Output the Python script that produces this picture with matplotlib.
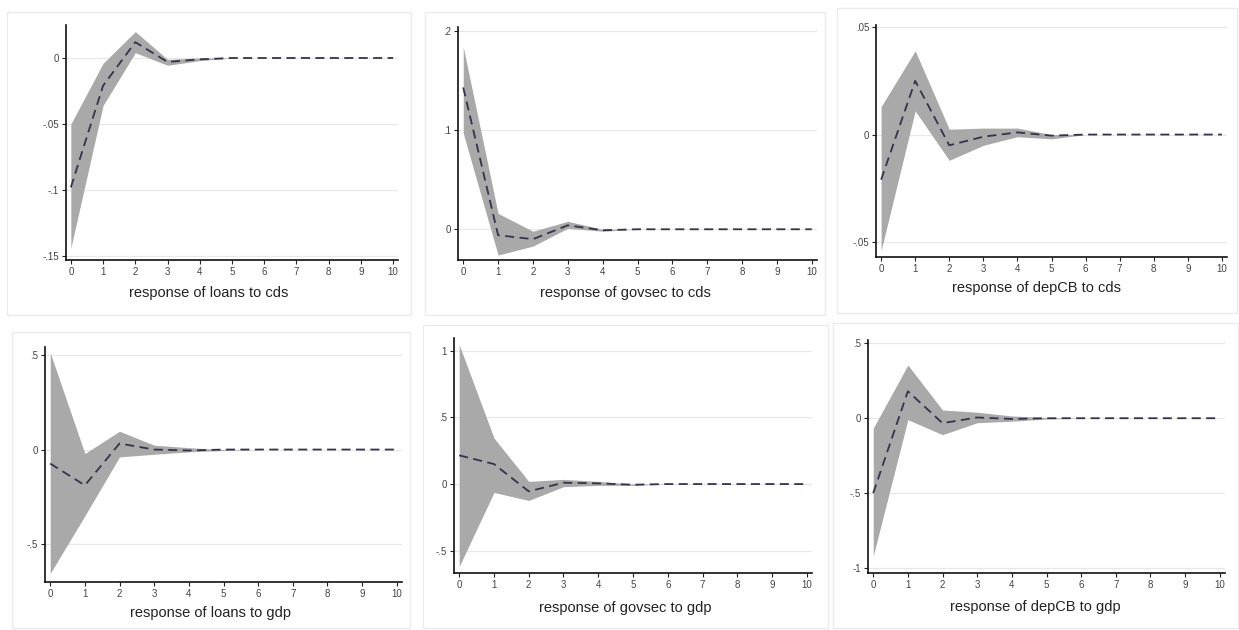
import matplotlib.pyplot as plt
from matplotlib.patches import Rectangle
from matplotlib.ticker import FuncFormatter

plt.rcParams['font.family'] = ['Liberation Sans', 'DejaVu Sans']

# Impulse responses over 10 steps, with lower/upper confidence bounds
steps = [0, 1, 2, 3, 4, 5, 6, 7, 8, 9, 10]

loans_cds_irf = [-0.098, -0.021, 0.012, -0.003, -0.001, 0.0, 0.0, 0.0, 0.0, 0.0, 0.0]
loans_cds_hi = [-0.050, -0.004, 0.020, -0.001, 0.0, 0.0, 0.0, 0.0, 0.0, 0.0, 0.0]
loans_cds_lo = [-0.144, -0.036, 0.004, -0.0055, -0.002, 0.0, 0.0, 0.0, 0.0, 0.0, 0.0]

govsec_cds_irf = [0.143, -0.006, -0.010, 0.004, -0.001, 0.0, 0.0, 0.0, 0.0, 0.0, 0.0]
govsec_cds_hi = [0.184, 0.016, -0.002, 0.008, 0.0, 0.0, 0.0, 0.0, 0.0, 0.0, 0.0]
govsec_cds_lo = [0.097, -0.026, -0.017, 0.001, -0.002, 0.0, 0.0, 0.0, 0.0, 0.0, 0.0]

depcb_cds_irf = [-0.021, 0.025, -0.005, -0.001, 0.001, -0.0005, 0.0, 0.0, 0.0, 0.0, 0.0]
depcb_cds_hi = [0.013, 0.039, 0.0025, 0.003, 0.003, 0.0, 0.0, 0.0, 0.0, 0.0, 0.0]
depcb_cds_lo = [-0.054, 0.011, -0.012, -0.005, -0.001, -0.002, 0.0, 0.0, 0.0, 0.0, 0.0]

loans_gdp_irf = [-0.074, -0.189, 0.032, 0.0, -0.005, 0.0, 0.0, 0.0, 0.0, 0.0, 0.0]
loans_gdp_hi = [0.512, -0.021, 0.097, 0.023, 0.010, 0.0, 0.0, 0.0, 0.0, 0.0, 0.0]
loans_gdp_lo = [-0.655, -0.350, -0.039, -0.025, -0.012, -0.005, 0.0, 0.0, 0.0, 0.0, 0.0]

govsec_gdp_irf = [0.215, 0.150, -0.055, 0.010, 0.005, -0.005, 0.0, 0.0, 0.0, 0.0, 0.0]
govsec_gdp_hi = [1.045, 0.345, 0.020, 0.035, 0.020, 0.0, 0.0, 0.0, 0.0, 0.0, 0.0]
govsec_gdp_lo = [-0.618, -0.063, -0.123, -0.020, -0.010, -0.010, 0.0, 0.0, 0.0, 0.0, 0.0]

depcb_gdp_irf = [-0.500, 0.180, -0.033, 0.005, -0.005, 0.0, 0.0, 0.0, 0.0, 0.0, 0.0]
depcb_gdp_hi = [-0.067, 0.355, 0.055, 0.040, 0.015, 0.005, 0.0, 0.0, 0.0, 0.0, 0.0]
depcb_gdp_lo = [-0.920, -0.010, -0.110, -0.030, -0.020, -0.005, 0.0, 0.0, 0.0, 0.0, 0.0]

titles = ["response of loans to cds", "response of govsec to cds", "response of depCB to cds",
          "response of loans to gdp", "response of govsec to gdp", "response of depCB to gdp"]
yticks = [[-0.15, -0.1, -0.05, 0], [0, 0.1, 0.2], [-0.05, 0, 0.05],
          [-0.5, 0, 0.5], [-0.5, 0, 0.5, 1], [-1, -0.5, 0, 0.5]]
ylims = [(-0.153, 0.025), (-0.031, 0.204), (-0.057, 0.051),
         (-0.70, 0.542), (-0.667, 1.095), (-1.033, 0.522)]

series = [
    (loans_cds_irf, loans_cds_lo, loans_cds_hi),
    (govsec_cds_irf, govsec_cds_lo, govsec_cds_hi),
    (depcb_cds_irf, depcb_cds_lo, depcb_cds_hi),
    (loans_gdp_irf, loans_gdp_lo, loans_gdp_hi),
    (govsec_gdp_irf, govsec_gdp_lo, govsec_gdp_hi),
    (depcb_gdp_irf, depcb_gdp_lo, depcb_gdp_hi),
]

W, H = 1239, 630
# pixel layout: outer frame (x0, y0, x1, y1), plot region (left, top, right, bottom),
# and the vertical centre of each caption line
frames = [(7, 12, 411, 315), (425, 12, 825, 315), (837, 8, 1237, 313),
          (12, 332, 410, 628), (423, 325, 828, 628), (833, 323, 1238, 628)]
plots = [(66, 25, 398, 260), (458, 27, 817, 260), (876, 25, 1227, 257),
         (45, 347, 402, 582), (454, 338, 812, 573), (868, 340, 1225, 573)]
caption_y = [293, 293, 288, 613, 608, 607]


def stata_num(v, pos=None):
    # Stata-style labels: drop the leading zero (.05, -.5)
    if abs(v) < 1e-12:
        return "0"
    return ("%g" % v).replace("0.", ".")


fig = plt.figure(figsize=(W / 100, H / 100), dpi=100)
fig.patch.set_facecolor("white")

for i, (fx0, fy0, fx1, fy1) in enumerate(frames):
    fig.patches.append(Rectangle((fx0 / W, 1 - fy1 / H), (fx1 - fx0) / W, (fy1 - fy0) / H,
                                 transform=fig.transFigure, fill=False,
                                 edgecolor="#ebebeb", linewidth=1.0))
    fig.text((fx0 + fx1) / 2 / W, 1 - caption_y[i] / H, titles[i], fontsize=10.5,
             color="#222222", ha="center", va="center")

for i, (l, t, r, b) in enumerate(plots):
    ax = fig.add_axes([l / W, 1 - b / H, (r - l) / W, (b - t) / H])
    irf, lo, hi = series[i]
    ax.fill_between(steps, lo, hi, color="#a9a9a9", linewidth=0, zorder=2)
    ax.plot(steps, irf, color="#33334d", linewidth=1.3, dashes=(5, 3), zorder=3)

    ax.set_xlim(-0.15, 10.15)
    ax.set_ylim(*ylims[i])
    ax.set_xticks(steps)
    ax.set_yticks(yticks[i])
    ax.yaxis.set_major_formatter(FuncFormatter(stata_num))
    for y in yticks[i]:
        ax.axhline(y, color="#e8e8e8", linewidth=0.9, zorder=1)

    for side in ("top", "right"):
        ax.spines[side].set_visible(False)
    for side in ("left", "bottom"):
        ax.spines[side].set_color("#111111")
        ax.spines[side].set_linewidth(1.2)
    ax.tick_params(axis="both", direction="out", length=3, width=0.8, color="#222222",
                   labelsize=7, labelcolor="#444444", pad=2)

fig.savefig("out.png", dpi=100)
